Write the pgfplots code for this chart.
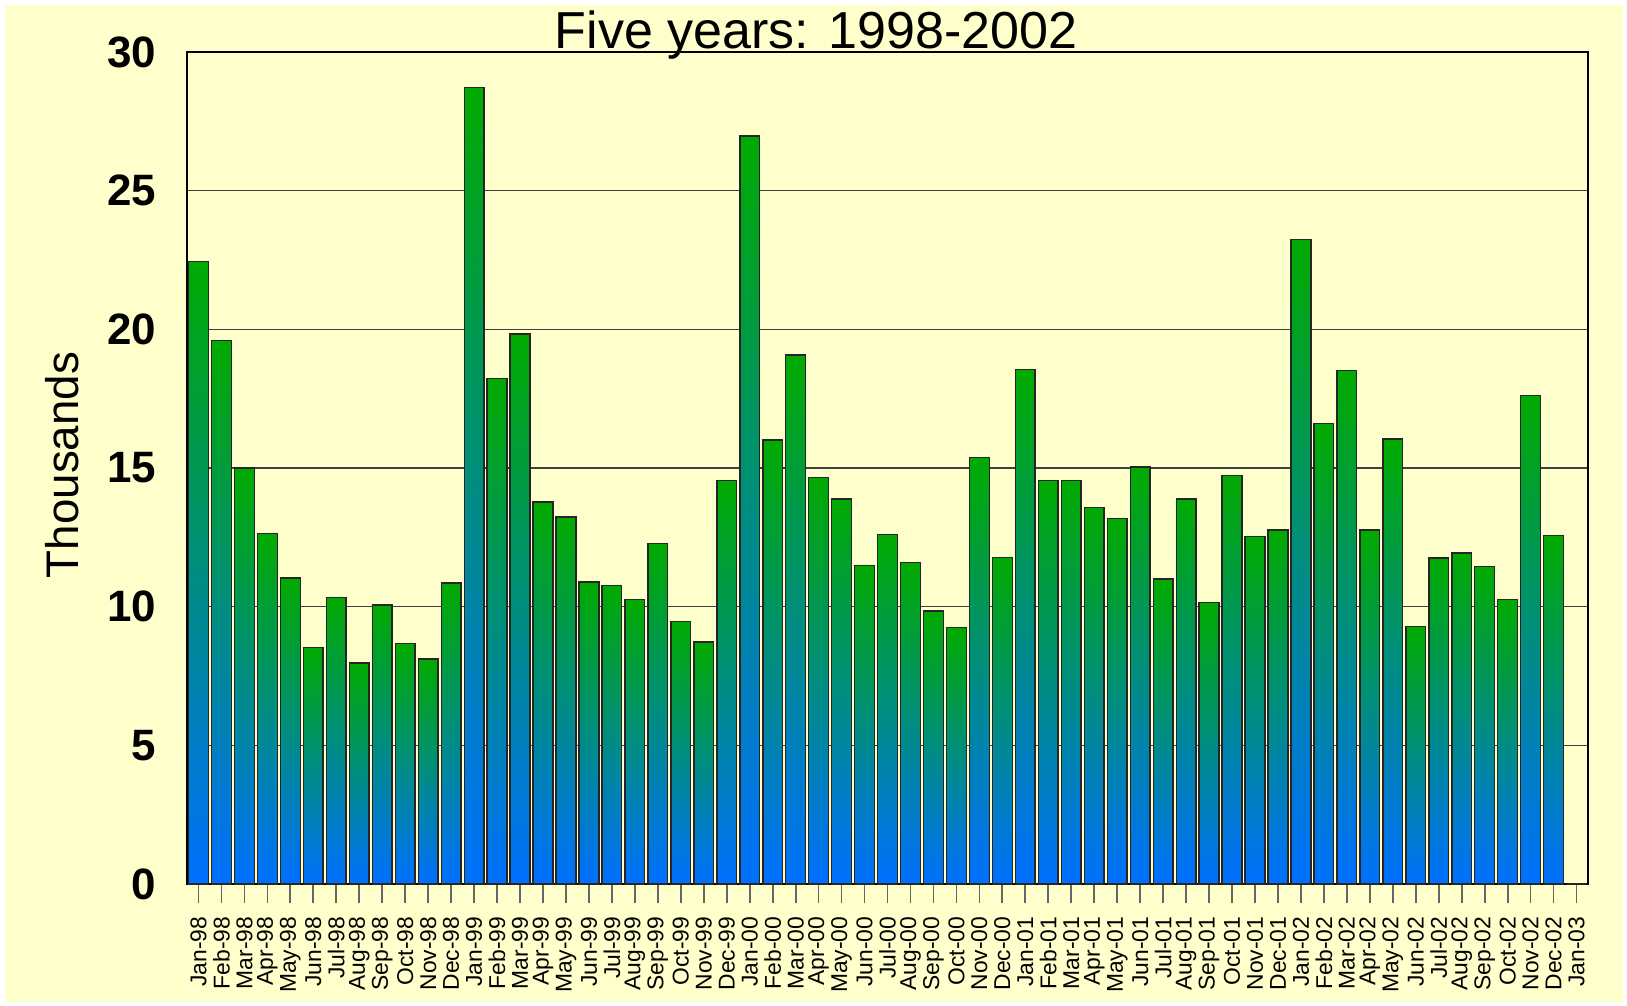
\documentclass[border=0pt]{standalone}
\usepackage{pgfplots}
\pgfplotsset{compat=1.18}
\usepackage{fontspec}
\setmainfont{Liberation Sans}
\definecolor{bgyellow}{RGB}{255,255,204}
\definecolor{bargreen}{RGB}{0,170,0}
\definecolor{barblue}{RGB}{0,112,255}
\newcommand\mbar[2]{\addplot[draw=black!85, line width=0.4pt, top color=bargreen, bottom color=barblue] coordinates {(#1,#2)};}
\begin{document}
\begin{tikzpicture}[x=1mm,y=1mm]
\useasboundingbox (0,0) rectangle (162.7,100.5);
\fill[white] (0,0) rectangle (162.7,100.5);
\fill[bgyellow] (0.5,0.3) rectangle (162.3,100.0);
\begin{axis}[
  at={(18.7mm,12.1mm)}, anchor=south west,
  width=140.1mm, height=83.2mm, scale only axis,
  ymin=0, ymax=30, ytick={0,5,...,30},
  xmin=-0.5, xmax=60.5,
  xtick={0,...,60},
  xticklabels={Jan-98,Feb-98,Mar-98,Apr-98,May-98,Jun-98,Jul-98,Aug-98,Sep-98,Oct-98,Nov-98,Dec-98,
    Jan-99,Feb-99,Mar-99,Apr-99,May-99,Jun-99,Jul-99,Aug-99,Sep-99,Oct-99,Nov-99,Dec-99,
    Jan-00,Feb-00,Mar-00,Apr-00,May-00,Jun-00,Jul-00,Aug-00,Sep-00,Oct-00,Nov-00,Dec-00,
    Jan-01,Feb-01,Mar-01,Apr-01,May-01,Jun-01,Jul-01,Aug-01,Sep-01,Oct-01,Nov-01,Dec-01,
    Jan-02,Feb-02,Mar-02,Apr-02,May-02,Jun-02,Jul-02,Aug-02,Sep-02,Oct-02,Nov-02,Dec-02,Jan-03},
  xticklabel style={rotate=90, anchor=east, font=\fontsize{6.5}{7.5}\selectfont, inner sep=0pt, xshift=-1.3mm},
  xtick align=outside, ytick align=inside,
  major tick length=1.9mm,
  xtick style={black!60, line width=0.5pt},
  ytick style={draw=none},
  xtick pos=bottom, ytick pos=left,
  /pgf/number format/assume math mode=true,
  yticklabel style={font=\fontsize{12.5}{14}\selectfont\bfseries, inner sep=0pt, xshift=-3.0mm},
  ymajorgrids, grid style={black!75, line width=0.4pt},
  axis line style={black, line width=0.7pt},
  ybar, bar width=0.86, bar shift=0pt,
  clip=false,
]
\mbar{0}{22.44} \mbar{1}{19.60} \mbar{2}{15.00} \mbar{3}{12.64} \mbar{4}{11.04} \mbar{5}{8.53}
\mbar{6}{10.32} \mbar{7}{7.97} \mbar{8}{10.06} \mbar{9}{8.68} \mbar{10}{8.12} \mbar{11}{10.85}
\mbar{12}{28.73} \mbar{13}{18.22} \mbar{14}{19.83} \mbar{15}{13.77} \mbar{16}{13.24} \mbar{17}{10.89}
\mbar{18}{10.77} \mbar{19}{10.25} \mbar{20}{12.27} \mbar{21}{9.46} \mbar{22}{8.72} \mbar{23}{14.55}
\mbar{24}{26.97} \mbar{25}{16.01} \mbar{26}{19.08} \mbar{27}{14.66} \mbar{28}{13.88} \mbar{29}{11.48}
\mbar{30}{12.61} \mbar{31}{11.60} \mbar{32}{9.84} \mbar{33}{9.24} \mbar{34}{15.37} \mbar{35}{11.78}
\mbar{36}{18.55} \mbar{37}{14.55} \mbar{38}{14.55} \mbar{39}{13.58} \mbar{40}{13.17} \mbar{41}{15.04}
\mbar{42}{11.00} \mbar{43}{13.88} \mbar{44}{10.14} \mbar{45}{14.74} \mbar{46}{12.53} \mbar{47}{12.76}
\mbar{48}{23.23} \mbar{49}{16.61} \mbar{50}{18.52} \mbar{51}{12.76} \mbar{52}{16.05} \mbar{53}{9.28}
\mbar{54}{11.75} \mbar{55}{11.93} \mbar{56}{11.45} \mbar{57}{10.25} \mbar{58}{17.62} \mbar{59}{12.57}
\addplot[draw=black!85, line width=0.8pt, fill=none] coordinates {(60,0)};
\end{axis}
\node[anchor=base, font=\fontsize{14.8}{16}\selectfont] at (81.6,95.6) {Five years: 1998-2002};
\node[rotate=90, font=\fontsize{13}{15}\selectfont] at (6.2,54) {Thousands};
\end{tikzpicture}
\end{document}
